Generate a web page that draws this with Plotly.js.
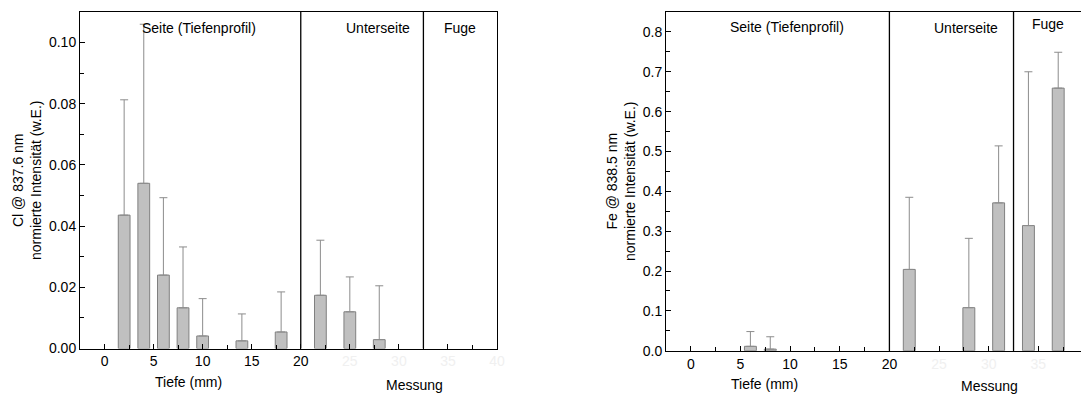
<!DOCTYPE html>
<html>
<head>
<meta charset="utf-8">
<script src="https://cdn.plot.ly/plotly-3.0.1.min.js"></script>
<style>
html,body{margin:0;padding:0;overflow:hidden;background:#fff;width:1081px;height:394px;}
#chart{width:1100px;height:394px;}
</style>
</head>
<body>
<div id="chart"></div>
<script>
// ---- data ----
const tickVals = [0, 5, 10, 15, 20, 25, 30, 35, 40];
const tickLabels = ['0', '5', '10', '15', '20', '25', '30', '35', '40'];
const sectionBounds = [20, 32.5];
const sectionNames = ['Seite (Tiefenprofil)', 'Unterseite', 'Fuge'];

const clX   = [2, 4, 6, 8, 10, 14, 18, 22, 25, 28];
const clY   = [0.0436, 0.054, 0.024, 0.0133, 0.0041, 0.0025, 0.0054, 0.0174, 0.012, 0.0029];
const clErr = [0.0377, 0.052, 0.0253, 0.0199, 0.0122, 0.0088, 0.0131, 0.018, 0.0114, 0.0176];

const feX   = [6, 8, 22, 28, 31, 34, 37];
const feY   = [0.011, 0.004, 0.204, 0.108, 0.371, 0.314, 0.659];
const feErr = [0.037, 0.031, 0.181, 0.174, 0.143, 0.386, 0.090];

const clTitle = 'Cl @ 837.6 nm<br>normierte Intensität (w.E.)';
const feTitle = 'Fe @ 838.5 nm<br>normierte Intensität (w.E.)';
const xTitle1 = 'Tiefe (mm)';
const xTitle2 = 'Messung';

// ---- layout helpers ----
const W = 1100, H = 394;
const px = v => v / W;
const py = v => 1 - v / H;
const FONT = 'Liberation Sans, Arial, Helvetica, sans-serif';

// labels beyond 20 are almost invisible in the reference
function makeTickText(maxShown) {
  return tickLabels.map((t, i) => {
    if (tickVals[i] > maxShown) return '';
    return tickVals[i] > 20 ? '<span style="color:#f0f0f0">' + t + '</span>' : t;
  });
}

function barTrace(x, y, err, xa, ya) {
  return {
    type: 'bar', x: x, y: y, width: 1.2, xaxis: xa, yaxis: ya,
    marker: {color: '#c0c0c0', line: {color: '#808080', width: 1}},
    error_y: {type: 'data', symmetric: false, array: err, arrayminus: err.map(() => 0),
              color: '#8c8c8c', thickness: 1, width: 4},
    hoverinfo: 'skip'
  };
}

function xAxis(domain, anchor, maxShown) {
  return {
    domain: domain, anchor: anchor, range: [-2.5, 40],
    tickmode: 'array', tickvals: tickVals, ticktext: makeTickText(maxShown),
    ticks: 'inside', ticklen: 5, tickwidth: 1, tickcolor: '#000',
    tickfont: {size: 14, color: '#000'},
    showline: true, linecolor: '#000', linewidth: 1, mirror: true,
    showgrid: false, zeroline: false, fixedrange: true,
    minor: {tickmode: 'linear', tick0: 0, dtick: 2.5, ticks: 'inside', ticklen: 4, tickwidth: 1, tickcolor: '#000', showgrid: false}
  };
}

function yAxis(domain, anchor, range, dtick, fmt) {
  return {
    domain: domain, anchor: anchor, range: range,
    tickmode: 'linear', tick0: 0, dtick: dtick, tickformat: fmt,
    ticks: 'inside', ticklen: 5, tickwidth: 1, tickcolor: '#000',
    tickfont: {size: 14, color: '#000'},
    showline: true, linecolor: '#000', linewidth: 1, mirror: true,
    showgrid: false, zeroline: false, fixedrange: true,
    minor: {tickmode: 'linear', tick0: 0, dtick: dtick / 2, ticks: 'inside', ticklen: 4, tickwidth: 1, tickcolor: '#000', showgrid: false}
  };
}

const shapes = [];
[['x', 'y'], ['x2', 'y2']].forEach(([xa, ya]) => {
  sectionBounds.forEach(b => {
    shapes.push({type: 'line', xref: xa, yref: ya + ' domain', x0: b, x1: b, y0: 0, y1: 1,
                 line: {color: '#000', width: 1.3}});
  });
});

function ann(text, xref, x, ypx, extra) {
  return Object.assign({text: text, xref: xref, yref: 'paper', x: x, y: py(ypx),
    xanchor: 'center', yanchor: 'middle', showarrow: false,
    font: {size: 14, color: '#000', family: FONT}}, extra || {});
}

const annotations = [
  ann(sectionNames[0], 'x', 9.65, 28.3),
  ann(sectionNames[1], 'x', 27.9, 28.3),
  ann(sectionNames[2], 'x', 36.2, 28.3),
  ann(sectionNames[0], 'x2', 9.64, 27),
  ann(sectionNames[1], 'x2', 27.75, 28),
  ann(sectionNames[2], 'x2', 36, 24.4),
  ann(xTitle1, 'x', 8.6, 382),
  ann(xTitle2, 'x', 31.6, 384.5),
  ann(xTitle1, 'x2', 7.4, 384),
  ann(xTitle2, 'x2', 30.1, 385.5),
  ann(clTitle, 'paper', px(26.5), 180.5, {textangle: -90}),
  ann(feTitle, 'paper', px(620.5), 181.5, {textangle: -90})
];

const data = [
  barTrace(clX, clY, clErr, 'x', 'y'),
  barTrace(feX, feY, feErr, 'x2', 'y2')
];

const layout = {
  width: W, height: H,
  margin: {l: 0, r: 0, t: 0, b: 0},
  paper_bgcolor: '#fff', plot_bgcolor: '#fff',
  showlegend: false,
  font: {family: FONT, size: 14, color: '#000'},
  xaxis: xAxis([px(80), px(497)], 'y', 40),
  yaxis: yAxis([py(348.5), py(12)], 'x', [0, 0.11], 0.02, '.2f'),
  xaxis2: xAxis([px(666), px(1088)], 'y2', 35),
  yaxis2: yAxis([py(350.7), py(12)], 'x2', [0, 0.85], 0.1, '.1f'),
  shapes: shapes,
  annotations: annotations
};

Plotly.newPlot('chart', data, layout, {staticPlot: true, displayModeBar: false});
</script>
</body>
</html>
